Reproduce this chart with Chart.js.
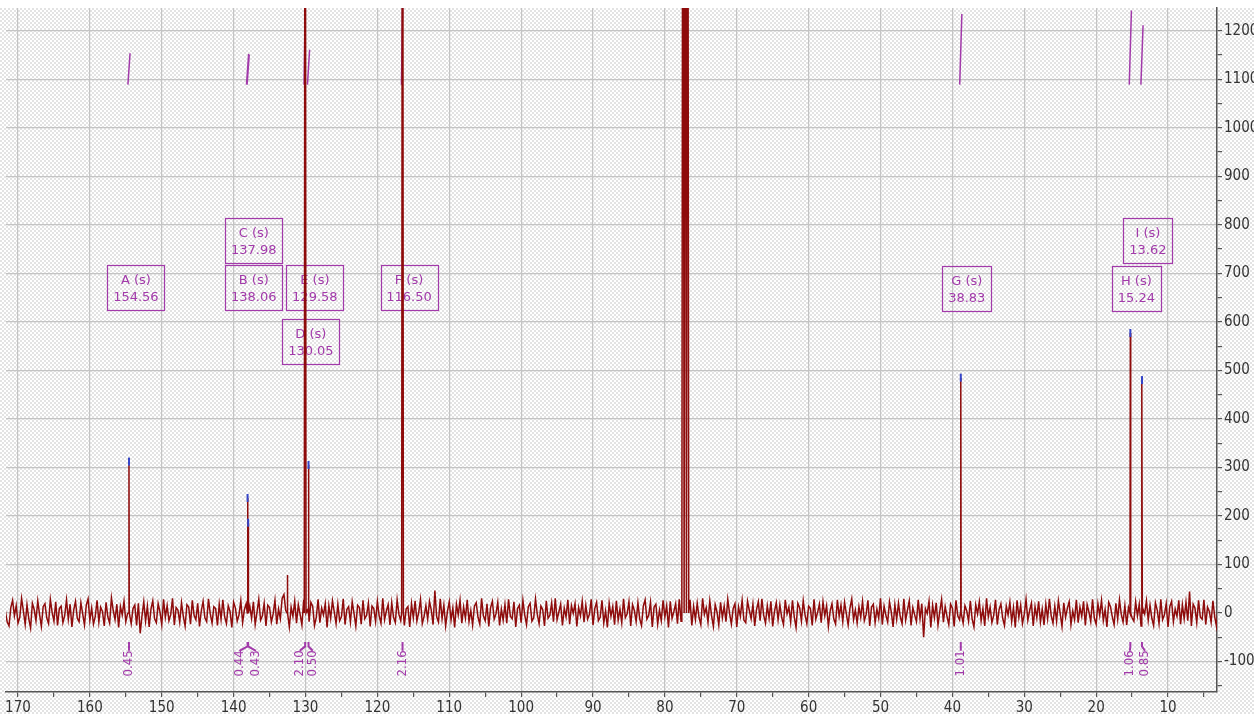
<!DOCTYPE html>
<html>
<head>
<meta charset="utf-8">
<script src="https://cdn.jsdelivr.net/npm/chart.js@4.4.0/dist/chart.umd.min.js"></script>
<style>
  html, body { margin: 0; padding: 0; background: #fff; }
  canvas { display: block; }
</style>
</head>
<body>
<canvas id="nmrChart" width="1254" height="714"></canvas>
<script>
// baseline noise, every 0.25 ppm from 172.5 ppm downwards
const noiseStart = 172.5;
const noiseStep = 0.25;
const noise = [
  8,-14,22,3,-19,-27,11,26,-6,15,-21,-9,30,4,-24,17,-12,-31,20,7,
  -16,25,-3,-28,13,19,-10,-22,28,1,-17,23,-26,9,14,-20,-5,27,-13,18,
  -29,6,24,-11,-18,21,-2,-25,16,29,-15,10,-23,-7,26,-19,12,3,-27,22,
  -8,-21,31,5,-14,18,-30,13,-4,24,-18,-1,27,-22,9,16,-26,20,-42,-6,
  23,-17,14,-29,8,25,-12,-20,19,2,-24,28,-9,15,-16,-3,30,-25,11,6,
  -19,21,-7,-27,17,12,-23,26,-5,-14,20,-28,4,24,-10,-18,29,-2,-21,13,
  9,-26,18,-13,27,-8,-22,15,3,-30,22,10,-17,-4,25,-20,7,19,-28,14,
  -11,23,-24,1,28,-15,-6,20,-27,16,11,-19,-2,26,-23,8,-12,30,38,5,
  21,-29,12,-7,24,-21,17,-3,-25,27,-13,6,-18,22,14,-26,-9,28,-20,10,
  -4,19,-30,15,-11,25,2,-22,18,-16,-8,29,-24,7,13,-19,23,-1,-27,16,
  11,-23,26,-12,-5,20,-28,14,9,-18,24,-6,-21,30,-14,4,17,-25,21,-9,
  -20,27,-3,-16,22,-26,8,13,-29,19,-10,25,-17,1,28,-22,-7,15,-13,24,
  6,-24,46,-8,-19,29,-12,16,-27,3,23,-15,10,-30,18,-4,26,-21,12,-11,
  27,-18,5,-25,14,21,-9,-23,30,-6,-16,19,-28,11,24,-13,-2,22,-26,8,
  -15,17,-21,28,-7,-12,23,-29,9,16,-20,26,-4,-24,13,20,-17,-10,29,-3,
  -22,14,7,-27,25,-11,-5,21,-18,30,-14,2,18,-26,10,-8,27,-23,15,-1,
  19,-28,11,-6,24,-19,16,-13,-3,28,-25,9,22,-16,-9,26,-21,4,-30,20,
  -7,13,-24,25,-15,8,-20,29,-10,-2,23,-27,17,5,-18,21,-12,-26,14,27,
  -13,-5,22,-29,12,18,-23,6,-16,26,-8,15,-30,24,-11,3,19,-22,28,-17,
  10,-21,16,-4,27,-26,13,-14,20,-9,-24,30,-3,11,-19,25,-6,-28,17,2,
  -25,22,-10,14,-18,28,-1,-23,9,19,-29,12,-7,26,-15,-20,24,5,-12,18,
  -27,7,23,-16,29,-5,-21,15,-11,24,-28,3,21,-14,17,-9,-24,27,-2,12,
  -19,26,-8,-30,20,11,-17,25,-4,-22,14,9,-26,28,-13,1,18,-20,23,-6,
  15,-28,4,19,-12,-23,27,-7,16,-18,22,-2,-25,10,29,-14,6,-21,13,-9,
  24,-16,-3,26,-27,12,18,-20,8,-11,30,-24,14,-5,-19,23,2,-29,17,-13,
  20,-8,-22,29,-15,6,25,-26,11,-4,-18,27,-12,19,-50,9,-1,24,-30,16,
  -10,21,-25,3,28,-19,13,-7,-24,18,10,-28,26,-6,-14,22,-21,15,4,-17,
  25,-13,-29,17,-2,23,-16,9,-27,30,-8,12,-20,-5,27,-24,7,19,-11,-26,
  14,-4,22,-18,11,-30,26,-9,16,-22,-3,28,-15,5,20,-27,13,-10,24,-19,
  8,-25,18,-12,29,-6,-21,14,-17,25,-1,-28,21,-9,10,23,-24,4,-14,27,
  -20,12,-7,24,-26,17,2,-18,28,-11,-23,19,-5,26,-16,7,-29,22,13,-8,
  -24,20,-13,27,-3,-19,15,-25,11,29,-10,-17,23,-6,18,-27,9,-2,25,-15,
  16,-11,-26,21,6,-22,28,-14,-4,19,-29,13,24,-18,8,-7,26,-23,17,-12,
  22,-16,44,-27,18,10,-20,26,-9,-13,27,-24,12,3,-19,25,-8,-28,20,-5
];

// every line in the spectrum (ppm, intensity, half width at the foot in ppm);
// the tall ones run off the top
const lineShifts  = [154.56, 138.06, 137.98, 132.52, 130.05, 129.58, 116.50, 77.48, 77.16, 76.84, 38.83, 15.24, 13.62];
const lineHeights = [312, 237, 186, 78, 2400, 305, 2400, 2400, 2400, 2400, 485, 577, 480];
const lineFeet    = [0.04, 0.04, 0.04, 0.04, 0.12, 0.04, 0.12, 0.16, 0.16, 0.16, 0.05, 0.05, 0.05];

// picked peaks A..I with their integrals
const peakNames   = ['A', 'B', 'C', 'D', 'E', 'F', 'G', 'H', 'I'];
const peakShifts  = [154.56, 138.06, 137.98, 130.05, 129.58, 116.50, 38.83, 15.24, 13.62];
const peakHeights = [312, 237, 186, 2400, 305, 2400, 485, 577, 480];
const integrals   = [0.45, 0.44, 0.43, 2.10, 0.50, 2.16, 1.01, 1.06, 0.85];

const xTickLabels = [170, 160, 150, 140, 130, 120, 110, 100, 90, 80, 70, 60, 50, 40, 30, 20, 10];
const xTickValues = [5, 10, 15, 20, 25, 30, 35, 40, 45, 50, 55, 60, 65, 70, 75, 80, 85, 90,
                     95, 100, 105, 110, 115, 120, 125, 130, 135, 140, 145, 150, 155, 160, 165, 170];
const yTickLabels = [-100, 0, 100, 200, 300, 400, 500, 600, 700, 800, 900, 1000, 1100, 1200];
const yTickValues = [-150, -100, -50, 0, 50, 100, 150, 200, 250, 300, 350, 400, 450, 500, 550, 600,
                     650, 700, 750, 800, 850, 900, 950, 1000, 1050, 1100, 1150, 1200];

// layout bits for the annotations (ppm, intensity)
const boxPos = [[153.6, 670], [137.2, 670], [137.2, 767], [129.25, 559], [128.7, 670],
                [115.6, 670], [38.0, 668], [14.4, 668], [12.8, 767]];
const intLabelPos = [154.56, 139.2, 136.9, 130.8, 129.0, 116.5, 38.83, 15.3, 13.2];
const intBase = 1089;
const intScale = 144;

const red = '#8e0b0b';
const purple = '#a23aaa';
const gridColor = '#c4c4c4';
const fontFamily = '"DejaVu Sans Condensed", "DejaVu Sans", sans-serif';
const labelFont = '"DejaVu Sans", sans-serif';

// build the trace: noise samples + the lines
const spectrum = [];
noise.forEach((v, i) => {
  const x = noiseStart - i * noiseStep;
  if (lineShifts.some((s, j) => Math.abs(s - x) < lineFeet[j] + 0.04)) return;
  spectrum.push({x: x, y: v});
});
lineShifts.forEach((s, i) => {
  spectrum.push({x: s + lineFeet[i], y: 0}, {x: s, y: lineHeights[i]}, {x: s - lineFeet[i], y: 0});
});
spectrum.sort((a, b) => b.x - a.x);

const integralCurves = [];
peakShifts.forEach((s, i) => {
  integralCurves.push({x: s + 0.15, y: intBase}, {x: s - 0.15, y: intBase + intScale * integrals[i]}, {x: s, y: null});
});

const peakMarks = peakShifts.map((s, i) => ({x: s, y: peakHeights[i]}));

// checkered background like the original viewer
const checker = document.createElement('canvas');
checker.width = 4; checker.height = 4;
const cctx = checker.getContext('2d');
cctx.fillStyle = '#ffffff'; cctx.fillRect(0, 0, 4, 4);
cctx.fillStyle = '#e3e3e3'; cctx.fillRect(0, 0, 2, 2); cctx.fillRect(2, 2, 2, 2);

const background = {
  id: 'background',
  beforeDraw(chart) {
    const ctx = chart.ctx;
    ctx.save();
    ctx.fillStyle = ctx.createPattern(checker, 'repeat');
    ctx.fillRect(0, 8, chart.width, chart.height - 8);
    ctx.fillStyle = '#ffffff';
    ctx.fillRect(0, 0, chart.width, 8);
    ctx.restore();
  }
};

const annotations = {
  id: 'annotations',
  beforeDatasetsDraw(chart) {
    const {ctx, scales: {x, y}} = chart;
    ctx.save();
    ctx.font = '13px ' + labelFont;
    ctx.textAlign = 'center';
    ctx.textBaseline = 'middle';
    ctx.strokeStyle = purple;
    ctx.fillStyle = purple;
    ctx.lineWidth = 1.2;
    peakNames.forEach((n, i) => {
      const cx = x.getPixelForValue(boxPos[i][0]);
      const cy = y.getPixelForValue(boxPos[i][1]);
      const l1 = n + ' (s)';
      const l2 = peakShifts[i].toFixed(2);
      const w = Math.round(Math.max(ctx.measureText(l1).width, ctx.measureText(l2).width) + 12);
      const h = 45;
      ctx.strokeRect(Math.round(cx - w / 2) + 0.5, Math.round(cy - h / 2) + 0.5, w, h);
      ctx.fillText(l1, cx, cy - 7);
      ctx.fillText(l2, cx, cy + 10);
    });

    // integral ticks and values under the baseline
    ctx.font = '13px ' + fontFamily;
    ctx.lineWidth = 2;
    peakShifts.forEach((s, i) => {
      const px = x.getPixelForValue(s);
      const lx = x.getPixelForValue(intLabelPos[i]);
      ctx.beginPath();
      ctx.moveTo(px, y.getPixelForValue(-60));
      ctx.lineTo(px, y.getPixelForValue(-69));
      ctx.lineTo(lx, y.getPixelForValue(-78));
      ctx.stroke();
      ctx.save();
      ctx.translate(lx, y.getPixelForValue(-104));
      ctx.rotate(-Math.PI / 2);
      ctx.fillText(integrals[i].toFixed(2), 0, 0);
      ctx.restore();
    });
    ctx.restore();
  }
};

const ctx = document.getElementById('nmrChart').getContext('2d');
const nmrChart = new Chart(ctx, {
  type: 'scatter',
  data: {
    datasets: [
      {
        label: 'peak picks',
        data: peakMarks,
        showLine: false,
        pointStyle: 'line',
        rotation: 90,
        pointRadius: 4,
        borderColor: '#3545c8',
        backgroundColor: '#3545c8',
        borderWidth: 2,
        order: 0
      },
      {
        label: '13C',
        data: spectrum,
        showLine: true,
        borderColor: red,
        borderWidth: 1.5,
        pointRadius: 0,
        tension: 0,
        order: 1
      },
      {
        label: 'integrals',
        data: integralCurves,
        showLine: true,
        spanGaps: false,
        borderColor: purple,
        borderWidth: 1.5,
        pointRadius: 0,
        order: 2
      }
    ]
  },
  options: {
    responsive: false,
    animation: false,
    layout: { padding: { top: 8, left: 0, right: 0, bottom: 0 } },
    plugins: {
      legend: { display: false },
      tooltip: { enabled: false }
    },
    scales: {
      x: {
        type: 'linear',
        position: 'bottom',
        reverse: true,
        min: 3.0,
        max: 172.6,
        afterBuildTicks: s => { s.ticks = xTickValues.map(v => ({value: v})); },
        afterFit: s => { s.height = 22; s.paddingLeft = 0; s.paddingRight = 0; },
        ticks: {
          autoSkip: false,
          maxRotation: 0,
          padding: 2,
          color: '#333',
          font: { family: fontFamily, size: 15 },
          callback: v => xTickLabels.includes(v) ? String(v) : ''
        },
        grid: {
          color: c => (c.tick && c.tick.value % 10 === 0) ? gridColor : 'rgba(0,0,0,0)',
          lineWidth: 1.2,
          tickColor: '#555',
          tickLength: 5,
          tickWidth: 1.2
        },
        border: { color: '#555', width: 1.5 }
      },
      y: {
        type: 'linear',
        position: 'right',
        min: -163,
        max: 1247,
        afterBuildTicks: s => { s.ticks = yTickValues.map(v => ({value: v})); },
        afterFit: s => { s.width = 37; s.paddingTop = 0; s.paddingBottom = 0; },
        ticks: {
          autoSkip: false,
          padding: 2,
          color: '#333',
          font: { family: fontFamily, size: 15 },
          callback: v => yTickLabels.includes(v) ? String(v) : ''
        },
        grid: {
          color: c => (c.tick && c.tick.value % 100 === 0) ? gridColor : 'rgba(0,0,0,0)',
          lineWidth: 1.2,
          tickColor: '#555',
          tickLength: 5,
          tickWidth: 1.2
        },
        border: { color: '#555', width: 1.5 }
      }
    }
  },
  plugins: [background, annotations]
});

// the plot area starts a few px in from the left; stretch the ppm range so
// 170 and 10 land where the original viewer put them
const area = nmrChart.chartArea;
const pxPerPpm = (1168 - 18) / 160;
const xMax = 170 + (18 - area.left) / pxPerPpm;
nmrChart.options.scales.x.max = xMax;
nmrChart.options.scales.x.min = xMax - (area.right - area.left) / pxPerPpm;
nmrChart.update('none');
</script>
</body>
</html>
